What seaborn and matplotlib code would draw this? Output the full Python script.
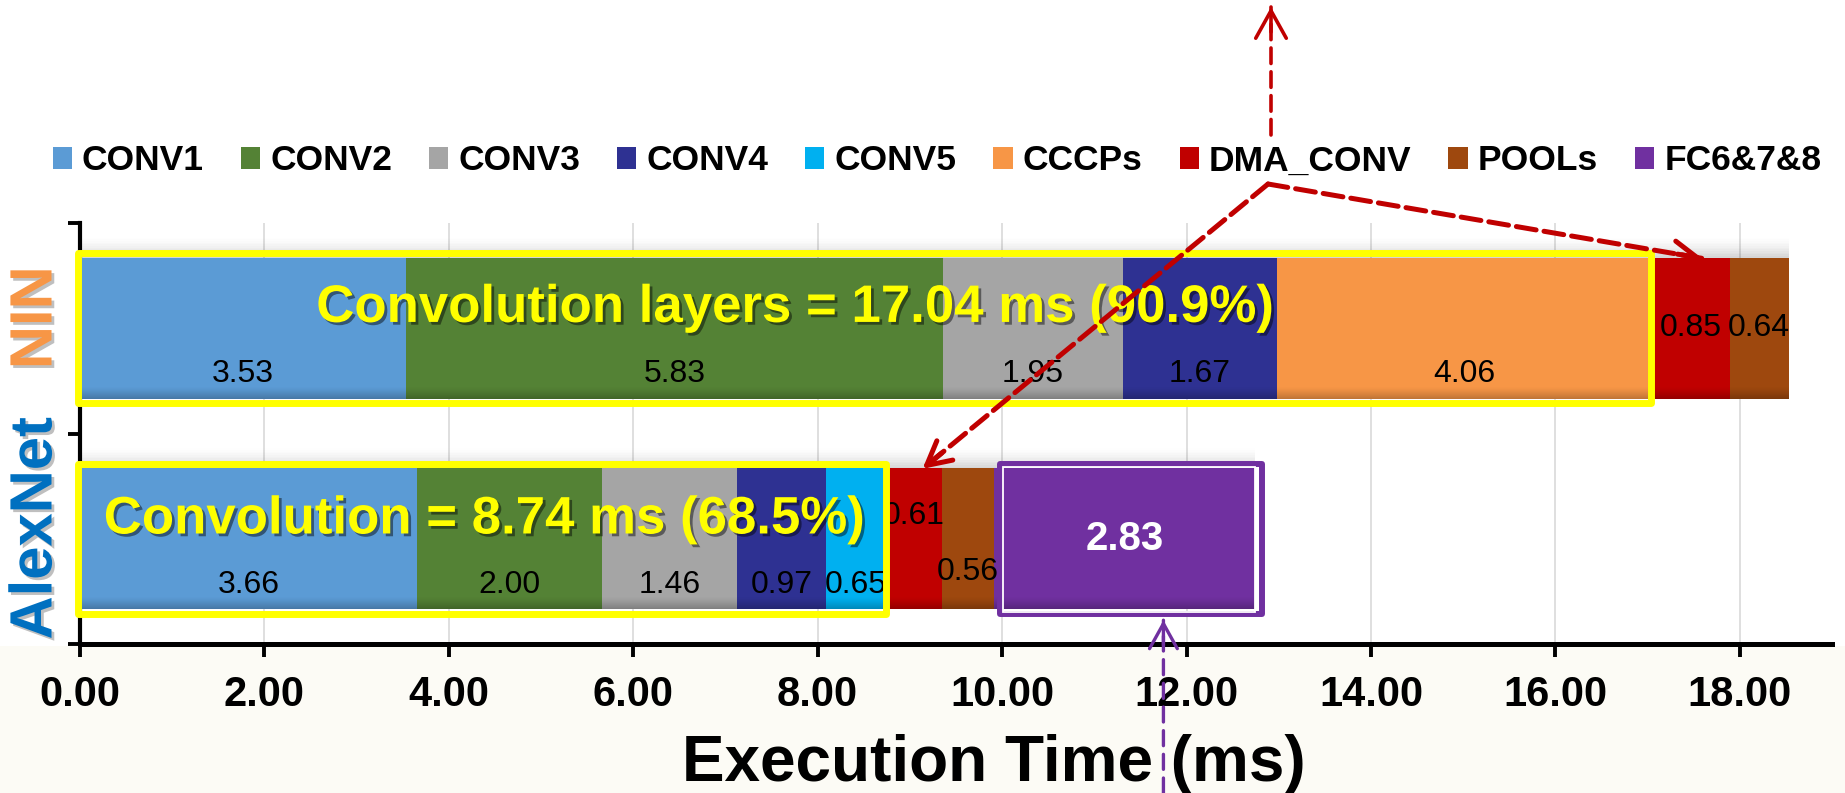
import numpy as np
import pandas as pd
import matplotlib
matplotlib.use("Agg")
import matplotlib.pyplot as plt
import matplotlib.transforms as mtransforms
import seaborn as sns
from matplotlib.patches import Rectangle, Patch
from matplotlib import patheffects as pe

# ---- data -------------------------------------------------------------
networks = ["NIN", "AlexNet"]
layers = ["CONV1", "CONV2", "CONV3", "CONV4", "CONV5",
          "CCCPs", "DMA_CONV", "POOLs", "FC6&7&8"]
nin_ms = [3.53, 5.83, 1.95, 1.67, 0.00, 4.06, 0.85, 0.64, 0.00]
alexnet_ms = [3.66, 2.00, 1.46, 0.97, 0.65, 0.00, 0.61, 0.56, 2.83]
conv_share_pct = [90.9, 68.5]
conv_layers = ["CONV1", "CONV2", "CONV3", "CONV4", "CONV5", "CCCPs"]
x_ticks = [0, 2, 4, 6, 8, 10, 12, 14, 16, 18]

layer_colors = ["#5B9BD5", "#548235", "#A5A5A5", "#2E3192", "#00B0F0",
                "#F79646", "#C00000", "#9E480E", "#7030A0"]
network_colors = ["#F79646", "#0070C0"]

values = np.array([nin_ms, alexnet_ms])
ends = np.cumsum(values, axis=1)
lefts = ends - values
conv_idx = [layers.index(c) for c in conv_layers]
conv_total = values[:, conv_idx].sum(axis=1)

# ---- figure -----------------------------------------------------------
sns.set_theme(style="white")
plt.rcParams["font.family"] = ["Liberation Sans", "DejaVu Sans"]
plt.rcParams.update({"text.color": "black", "axes.labelcolor": "black",
                     "xtick.color": "black", "ytick.color": "black"})

W, H = 1845, 793
fig = plt.figure(figsize=(W / 100, H / 100), dpi=100)
fig.patch.set_facecolor("white")
fig.patches.append(Rectangle((0, 0), 1, 0.185, transform=fig.transFigure,
                             facecolor="#FCFBF5", edgecolor="none", zorder=-10))

ax = fig.add_axes([80 / W, 1 - 644 / H, 1752 / W, 421 / H])
ax.set_facecolor("none")

bar_h = 0.67
# stacked bars: draw running totals from the longest down to the shortest
for j in reversed(range(len(layers))):
    sns.barplot(x=ends[:, j], y=networks, orient="h", color=layer_colors[j],
                saturation=1, width=bar_h, errorbar=None, linewidth=0,
                edgecolor="none", ax=ax, zorder=3)

ax.set_xlim(0, 19)
ax.set_ylim(1.5, -0.5)

# soft shadow above each bar and darker band along its bottom edge
px = 421 / 2.0  # pixels per category unit
for i in range(len(networks)):
    top = i - bar_h / 2
    bot = i + bar_h / 2
    n = 12
    for k in range(n):
        y0 = top - (k + 1) * (20 / px) / n
        ax.add_patch(Rectangle((0, y0), ends[i, -1], (20 / px) / n,
                               facecolor="black", edgecolor="none",
                               alpha=0.16 * (1 - k / n) ** 1.5, zorder=2))
    for k in range(n):
        y0 = bot - (k + 1) * (12 / px) / n
        ax.add_patch(Rectangle((0, y0), ends[i, -1], (12 / px) / n,
                               facecolor="black", edgecolor="none",
                               alpha=0.22 * (1 - k / n) ** 1.3, zorder=3.5))

# value labels inside the bars
label_dy = {
    ("NIN", "DMA_CONV"): 0.0, ("NIN", "POOLs"): 0.0,
    ("AlexNet", "DMA_CONV"): -0.11, ("AlexNet", "POOLs"): 0.16,
    ("AlexNet", "FC6&7&8"): 0.0,
}
for i, net in enumerate(networks):
    for j, layer in enumerate(layers):
        v = values[i, j]
        if v <= 0:
            continue
        cx = lefts[i, j] + v / 2
        dy = label_dy.get((net, layer), 0.218)
        if layer == "FC6&7&8":
            ax.text(cx, i + dy, f"{v:.2f}", ha="center", va="center",
                    fontsize=29, fontweight="bold", color="white", zorder=6)
        else:
            ax.text(cx, i + dy, f"{v:.2f}", ha="center", va="center",
                    fontsize=23, color="black", zorder=4)

# yellow frames around the convolution parts
box_half = 0.356
for i in range(len(networks)):
    ax.add_patch(Rectangle((-0.02, i - box_half), conv_total[i] + 0.02,
                           2 * box_half, fill=False, edgecolor="#FFFF00",
                           lw=5, joinstyle="round", zorder=5, clip_on=False))

# purple frame around the fully connected part of AlexNet
fc = layers.index("FC6&7&8")
ia = networks.index("AlexNet")
ax.add_patch(Rectangle((lefts[ia, fc] + 0.07, ia - box_half),
                       values[ia, fc] + 0.01, 2 * box_half, fill=False,
                       edgecolor="#7030A0", lw=4.3, joinstyle="round", zorder=5))
ax.add_patch(Rectangle((lefts[ia, fc] + 0.1, ia - bar_h / 2 - 0.005),
                       values[ia, fc] - 0.1, bar_h + 0.02, fill=False,
                       edgecolor="white", lw=1.3, zorder=5))

# headline annotations
shadow = [pe.withSimplePatchShadow(offset=(2, -2), shadow_rgbFace="black", alpha=0.45)]
ax.text(7.75, 0 - 0.03,
        f"Convolution layers = {conv_total[0]:.2f} ms ({conv_share_pct[0]:.1f}%)",
        ha="center", va="baseline", fontsize=38, fontweight="bold",
        color="#FFFF00", zorder=7, path_effects=shadow)
ax.text(4.38, 1 - 0.025,
        f"Convolution = {conv_total[1]:.2f} ms ({conv_share_pct[1]:.1f}%)",
        ha="center", va="baseline", fontsize=38, fontweight="bold",
        color="#FFFF00", zorder=7, path_effects=shadow)

# axes styling
sns.despine(ax=ax, top=True, right=True)
ax.spines["left"].set_linewidth(3)
ax.spines["bottom"].set_linewidth(3.6)
ax.spines["left"].set_color("black")
ax.spines["bottom"].set_color("black")
ax.set_xticks(x_ticks)
ax.set_xticklabels([f"{t:.2f}" for t in x_ticks])
ax.tick_params(axis="x", which="major", direction="out", length=9.5, width=2.8,
               color="black", labelcolor="black", labelsize=30, pad=13, bottom=True)
for lab in ax.get_xticklabels():
    lab.set_fontweight("bold")
ax.xaxis.grid(True, color="#D9D9D9", lw=1.2, zorder=0)
ax.yaxis.grid(False)
ax.set_axisbelow(True)

# network names as rotated labels beside each bar
ax.set_yticks([])
ylab_tf = mtransforms.blended_transform_factory(ax.transAxes, ax.transData)
for i, (net, col) in enumerate(zip(networks, network_colors)):
    ax.text(-44 / 1752, i - 0.05, net, transform=ylab_tf, rotation=90,
            ha="center", va="center", fontsize=43, fontweight="bold",
            color=col, clip_on=False,
            path_effects=[pe.withSimplePatchShadow(offset=(2, -2),
                                                   shadow_rgbFace="#808080",
                                                   alpha=0.5)])
ax.set_yticks([-0.5, 0.5, 1.5], minor=True)
ax.tick_params(axis="y", which="minor", direction="out", length=9, width=2.8,
               color="black", left=True)
ax.set_ylabel("")

ax.set_xlabel("Execution Time (ms)", fontsize=46, fontweight="bold")
ax.xaxis.label.set_va("baseline")
ax.xaxis.set_label_coords((994 - 80) / 1752, (644 - 781) / 421)

# legend
handles = [Patch(facecolor=c, edgecolor="none") for c in layer_colors]
fig.legend(handles, layers, ncol=len(layers), loc="center",
           bbox_to_anchor=(937 / W, 1 - 161 / H), frameon=False,
           prop=dict(weight="bold", size=25.5), handlelength=0.54,
           handleheight=0.54, handletextpad=0.29, columnspacing=1.04,
           borderpad=0, borderaxespad=0)


# dashed call-out arrows (dashed shaft, solid open head)
def dashed_arrow(p0, p1, color, lw, dash, head_len, head_w, scale):
    p0 = np.asarray(p0, float)
    p1 = np.asarray(p1, float)
    u = (p1 - p0) / np.hypot(*(p1 - p0))
    ax.annotate("", xy=p1, xycoords="figure pixels", xytext=p0,
                textcoords="figure pixels", annotation_clip=False,
                arrowprops=dict(arrowstyle="-", color=color, lw=lw,
                                linestyle=(0, dash), shrinkA=0, shrinkB=0),
                zorder=8)
    ax.annotate("", xy=p1, xycoords="figure pixels", xytext=p1 - u * 25,
                textcoords="figure pixels", annotation_clip=False,
                arrowprops=dict(arrowstyle=f"->,head_length={head_len},head_width={head_w}",
                                color=color, lw=lw, shrinkA=0, shrinkB=0,
                                mutation_scale=scale, capstyle="round",
                                joinstyle="round"),
                zorder=8)


to_px = ax.transData.transform
dma = layers.index("DMA_CONV")
origin = (1268, H - 184)
for i in range(len(networks)):
    tip = to_px((lefts[i, dma] + 0.65 * values[i, dma], i - bar_h / 2 + 0.003))
    dashed_arrow(origin, tip, "#C00000", 3.6, (4, 1.6), 0.85, 0.45, 20)
dashed_arrow((1271, H - 135), (1271, H - 7), "#C00000", 2.6, (4.3, 2.3), 0.9, 0.5, 22)

fc_tip = to_px((lefts[ia, fc] + 0.65 * values[ia, fc], ia + bar_h / 2 + 0.052))
dashed_arrow((fc_tip[0], 0), fc_tip, "#7030A0", 2.4, (4.5, 2.6), 0.9, 0.5, 20)

fig.savefig("out.png", dpi=100)
